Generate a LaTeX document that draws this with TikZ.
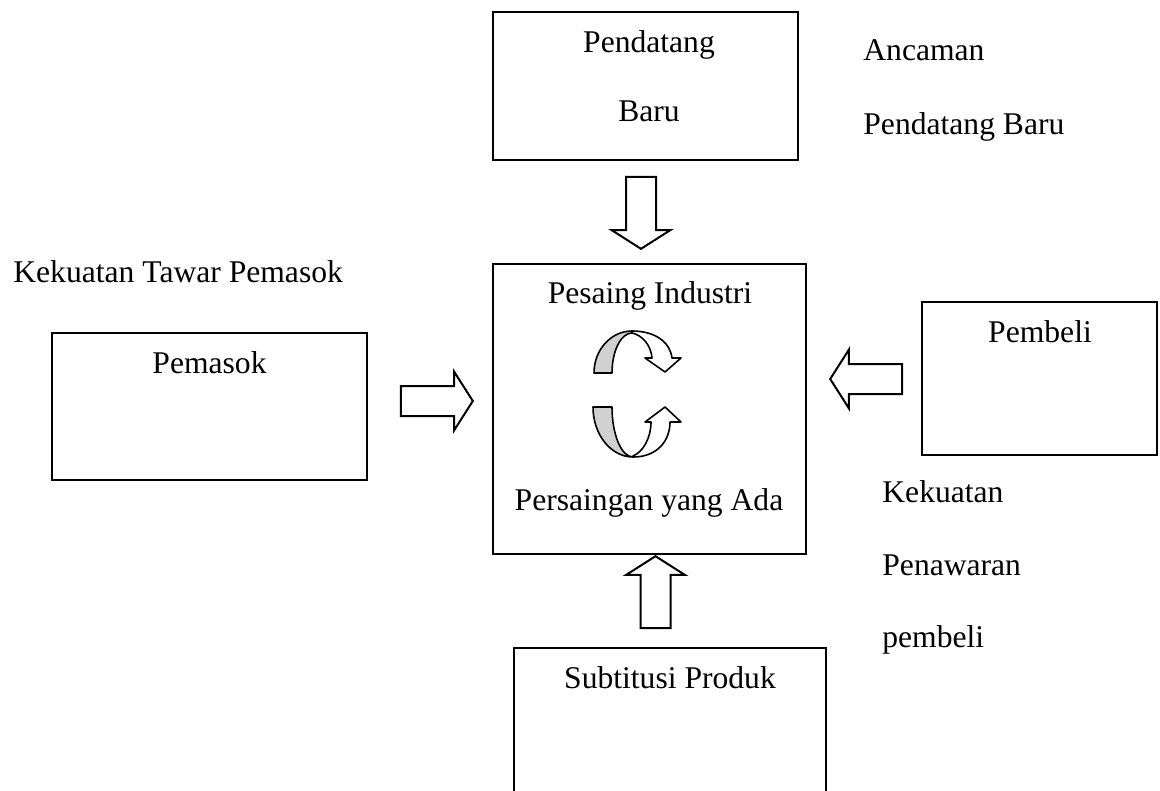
\documentclass[tikz,border=0pt]{standalone}
\usepackage{fontspec}
\setmainfont{Liberation Serif}
\usetikzlibrary{shapes.arrows}
\definecolor{bandgray}{gray}{0.82}
\begin{document}
\begin{tikzpicture}[x=0.5pt, y=-0.5pt,
  box/.style={shape=rectangle, draw=black, line width=1pt, inner sep=0pt},
  txt/.style={font=\fontsize{15.8pt}{19pt}\selectfont, inner sep=0pt, anchor=base},
  txtl/.style={txt, anchor=base west},
  blockarrow/.style={shape=single arrow, draw=black, line width=1pt, inner sep=7pt,
    minimum height=36pt, minimum width=10pt, single arrow head extend=7.25pt,
    single arrow tip angle=115, anchor=tip},
  band/.style={draw=black, line width=0.8pt, line join=round}]
\clip (0,0) rectangle (1160,791);
\node[box, minimum width=152.5pt, minimum height=74pt] (baru) at (645.5,86) {};
\node[box, minimum width=156.5pt, minimum height=145pt] (pesaing) at (649.5,409) {};
\node[box, minimum width=157.5pt, minimum height=73.5pt] (pemasok) at (209.5,406.5) {};
\node[box, minimum width=117.5pt, minimum height=76.5pt] (pembeli) at (1039.5,378.5) {};
\node[box, minimum width=156pt, minimum height=91pt] (produk) at (670,739) {};
\node[txt] (t1) at (649,53) {Pendatang};
\node[txt] (t2) at (649,122) {Baru};
\node[txt] (t3) at (650,303) {Pesaing Industri};
\node[txt] (t4) at (649,510) {Persaingan yang Ada};
\node[txt] (t5) at (209.5,373) {Pemasok};
\node[txt] (t6) at (1040,342) {Pembeli};
\node[txt] (t7) at (670,688) {Subtitusi Produk};
\node[txtl] (k1) at (13,282) {Kekuatan Tawar Pemasok};
\node[txtl] (k2) at (863,61) {Ancaman};
\node[txtl] (k3) at (863,135) {Pendatang Baru};
\node[txtl] (k4) at (882,502) {Kekuatan};
\node[txtl] (k5) at (882,575) {Penawaran};
\node[txtl] (k6) at (882,647) {pembeli};
\node[blockarrow, shape border rotate=270] (a1) at (641,250) {};
\node[blockarrow, shape border rotate=0] (a2) at (474,401) {};
\node[blockarrow, shape border rotate=180] (a3) at (829,379) {};
\node[blockarrow, shape border rotate=90] (a4) at (655.5,555) {};
\draw[band, fill=white] (632,331) .. controls (655,331) and (670,342) .. (672,358) -- (681,358) -- (665,372) -- (645,358) -- (652,358) .. controls (651,345) and (642,335) .. (632,333) -- cycle;
\draw[band, fill=bandgray] (594,373) arc[start angle=180, end angle=270, x radius=38, y radius=42] -- (632,333) arc[start angle=270, end angle=180, x radius=20, y radius=40] -- cycle;
\draw[band, fill=white] (633,457) .. controls (658,457) and (670,440) .. (670,422) -- (681,422) -- (665,407) -- (645,422) -- (651,422) .. controls (651,438) and (643,452) .. (633,456) -- cycle;
\draw[band, fill=bandgray] (593,407) arc[start angle=180, end angle=90, x radius=40, y radius=50] arc[start angle=90, end angle=180, x radius=21, y radius=50] -- cycle;
\end{tikzpicture}
\end{document}
